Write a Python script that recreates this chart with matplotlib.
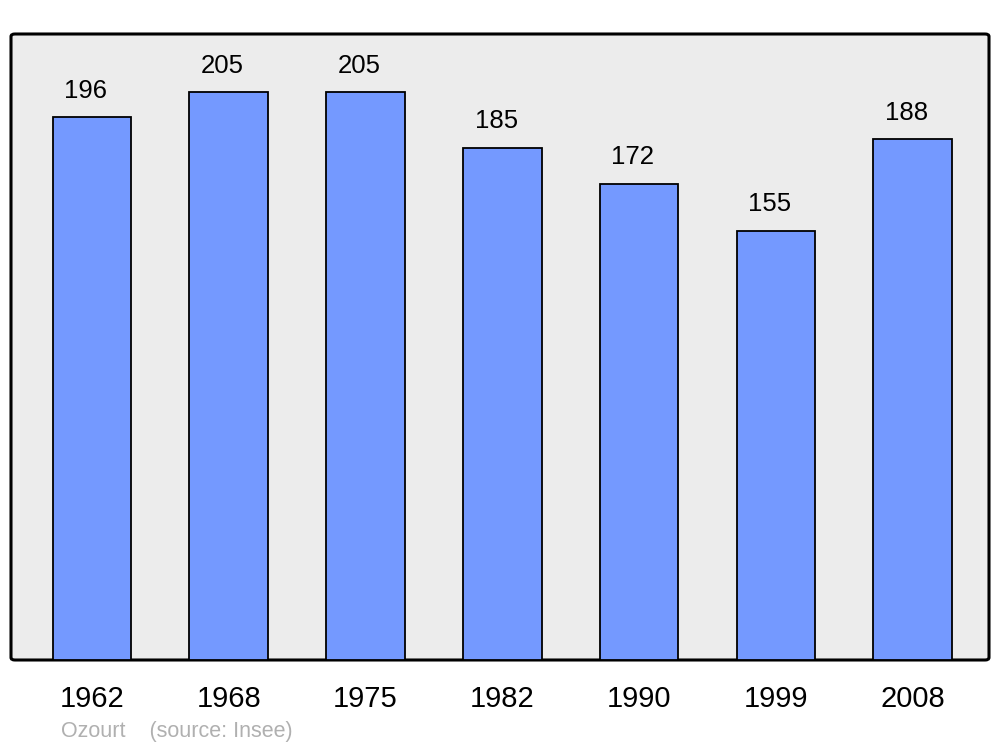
import matplotlib.pyplot as plt
from matplotlib.patches import FancyBboxPatch

plt.rcParams['font.family'] = ['Liberation Sans', 'DejaVu Sans']

years = ["1962", "1968", "1975", "1982", "1990", "1999", "2008"]
population = [196, 205, 205, 185, 172, 155, 188]

fig = plt.figure(figsize=(10, 7.47), dpi=100)
ax = fig.add_axes([0.011, 1 - 660 / 747, 0.978, 626 / 747])
ax.set_facecolor("none")
ax.set_xlim(-0.591, 6.558)
ax.set_ylim(0, 226)

# rounded grey frame
frame = FancyBboxPatch((0, 0), 1, 1, boxstyle="round,pad=0,rounding_size=0.004",
                       transform=ax.transAxes, facecolor="#ececec",
                       edgecolor="black", linewidth=2.2, zorder=0, clip_on=False)
ax.add_patch(frame)
for s in ax.spines.values():
    s.set_visible(False)

x = range(len(years))
bars = ax.bar(x, population, width=0.575, color="#7499ff", edgecolor="black",
              linewidth=1.3, zorder=2)
for xi, v in zip(x, population):
    ax.text(xi - 0.045, v + 9.5, str(v), ha="center", va="center", fontsize=18.5)

ax.set_xticks(list(x))
ax.set_xticklabels(years, fontsize=21)
ax.tick_params(axis="x", length=0, pad=18)
ax.set_yticks([])

fig.text(0.061, 1 - 732 / 747, "Ozourt    (source: Insee)", color="#b0b0b0",
         fontsize=15.5, va="center")

fig.savefig("out.png", dpi=100)
